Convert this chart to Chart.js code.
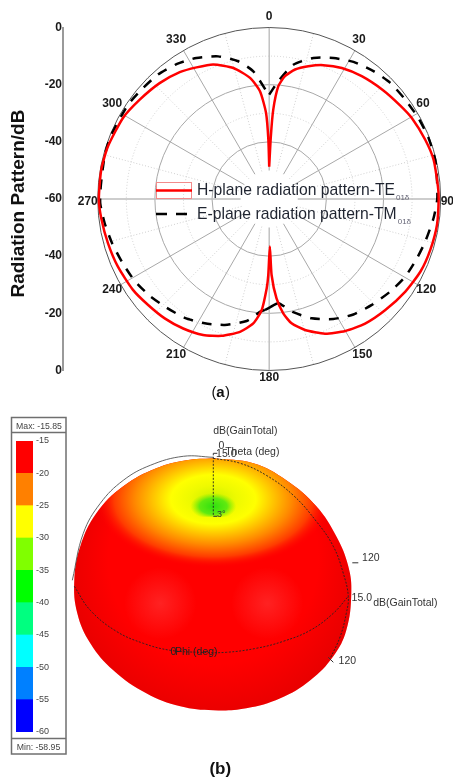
<!DOCTYPE html>
<html>
<head>
<meta charset="utf-8">
<title>Radiation pattern</title>
<script src="https://cdn.jsdelivr.net/npm/chart.js@4/dist/chart.umd.min.js"></script>
<style>
  html, body { margin: 0; padding: 0; background: #fff; overflow: hidden; }
  canvas { position: absolute; display: block; }
  #polar { left: 0; top: 0; }
  #scale { left: 0; top: 400px; z-index: 2; }
  #sphere { left: 70px; top: 400px; }
</style>
</head>
<body>
<canvas id="polar" width="453" height="400"></canvas>
<canvas id="scale" width="70" height="381"></canvas>
<canvas id="sphere" width="383" height="381"></canvas>
<script>
// (a) measured patterns, angle in degrees and level in dB
const hAngles = [0, 1.5, 2.6, 4.6, 7.3, 11.3, 16.4, 22, 29, 37, 46.3, 54.4, 60.5, 69.2, 76.6, 85.8, 90, 98.7, 107.5, 115.6, 124.2, 133.7, 142.4, 150, 157.5, 164.7, 169.8, 173, 175.8, 178.2, 179.2, 180.7, 181.6, 183.9, 187.3, 192.4, 199.2, 205.9, 213.6, 221.2, 228.8, 236.3, 246, 254.7, 263.5, 270, 279.8, 288, 299, 307.5, 316.6, 324.8, 331.1, 337.4, 344.7, 351, 355.1, 357.9, 359.2, 360];
const hLevels = [-48.7, -38.1, -28.7, -20.5, -16.7, -13.8, -11.6, -9.5, -7.6, -6.2, -4.9, -3.7, -2.6, -1.6, -0.85, -0.8, -0.7, -0.6, -0.9, -1.3, -2.4, -3.8, -5, -6.7, -9, -12.5, -15.8, -19.7, -25.1, -33.4, -43.4, -33.4, -28.8, -21, -16.1, -12.4, -9.3, -7.1, -5.6, -4.5, -3.7, -2.7, -2, -1.5, -0.85, -0.4, -0.35, -0.65, -1.5, -2.9, -4.2, -5.7, -7.4, -9, -12.5, -17.1, -22.2, -29.9, -39.3, -48.7];
const eAngles = [0, 4.4, 10.2, 17.4, 24.5, 31.6, 39.2, 46.2, 53.9, 61.6, 69, 76.7, 83.5, 90, 96.6, 105.2, 111.8, 119.7, 127.4, 135.9, 143.9, 151.9, 160.4, 168, 175, 179.6, 182.2, 184.7, 190.5, 199.4, 207.4, 215.4, 223.4, 231, 238.7, 246.6, 254.3, 261.7, 268.6, 274.7, 284.5, 291.4, 303.7, 310.5, 318.2, 325.7, 332.7, 340.3, 347.3, 352.9, 358.6, 360];
const eLevels = [-23.5, -18.7, -12.3, -8.3, -5.8, -3.7, -2.3, -1.3, -1.05, -0.6, -0.3, -0.3, -0.9, -1.2, -2.1, -3.4, -4.3, -5.2, -6.7, -8.4, -10, -12.4, -15.7, -19.5, -23.4, -22.1, -21.2, -20.4, -16.6, -13.3, -11, -9, -7.7, -6.2, -4.9, -4, -2.9, -1.8, -0.85, -0.9, -0.5, -0.3, -0.6, -1.15, -1.6, -2.8, -4.45, -7, -10.6, -15, -22.3, -23.5];
const angleTicks = [0, 30, 60, 90, 120, 150, 180, 210, 240, 270, 300, 330];
const solidRings = [-20, -40];
const dottedRings = [-10, -30];

// (b) colour scale
const gainEdges = [-60, -55, -50, -45, -40, -35, -30, -25, -20, -15];
const gainColors = ["#0000ff", "#0080ff", "#00ffff", "#00ff80", "#00ff00", "#80ff00", "#ffff00", "#ff8000", "#ff0000"];

// (b) traces of the 3D plot
const bodyX = [0, 40, 73, 103, 123, 135, 138, 133, 120, 97, 67, 33, 0, -33, -67, -100, -123, -136, -139, -133, -117, -90, -57, -27, 0];
const bodyY = [126, 121, 104, 78, 48, 18, -9, -46, -72, -96, -114, -124, -126, -122, -109, -86, -59, -29, 4, 38, 71, 98, 116, 124, 126];
const arcX = [-141, -130, -113, -90, -63, -30, 0];
const arcY = [4, 51, 81, 104, 119, 128, 127];
const thetaX = [0, 27, 53, 80, 103, 120, 130, 135, 133, 127, 117];
const thetaY = [126, 121, 109, 89, 63, 38, 11, -12, -29, -52, -74];
const phiX = [-139, -123, -97, -70, -43, -13, 13, 43, 70, 97, 120, 135];
const phiY = [-2, -26, -47, -59, -66, -68, -68, -64, -57, -46, -29, -12];

const FONT = '"Liberation Sans", Arial, sans-serif';
const toXY = (a, db) => ({
  x: (db + 60) * Math.sin(a * Math.PI / 180),
  y: (db + 60) * Math.cos(a * Math.PI / 180),
});
const zip = (xs, ys) => xs.map((x, i) => ({ x: x, y: ys[i] }));

function label(ctx, text, x, y, font, color, align) {
  ctx.font = font;
  ctx.fillStyle = color;
  ctx.textAlign = align || "center";
  ctx.textBaseline = "middle";
  ctx.fillText(text, x, y);
}

const polarGrid = {
  id: "polarGrid",
  beforeDatasetsDraw(chart) {
    const { ctx, scales: { x, y } } = chart;
    const cx = x.getPixelForValue(0), cy = y.getPixelForValue(0);
    const unit = cx - x.getPixelForValue(-1);
    ctx.save();
    ctx.lineWidth = 1;
    dottedRings.forEach((db) => {
      ctx.strokeStyle = "#cfcfcf";
      ctx.setLineDash([1, 2]);
      ctx.beginPath();
      ctx.arc(cx, cy, (db + 60) * unit, 0, Math.PI * 2);
      ctx.stroke();
    });
    for (let a = 15; a < 360; a += 30) {
      const s = Math.sin(a * Math.PI / 180), c = Math.cos(a * Math.PI / 180);
      ctx.beginPath();
      ctx.moveTo(cx + s * 10 * unit, cy - c * 10 * unit);
      ctx.lineTo(cx + s * 60 * unit, cy - c * 60 * unit);
      ctx.stroke();
    }
    ctx.setLineDash([]);
    ctx.strokeStyle = "#a8a8a8";
    solidRings.forEach((db) => {
      ctx.beginPath();
      ctx.arc(cx, cy, (db + 60) * unit, 0, Math.PI * 2);
      ctx.stroke();
    });
    angleTicks.forEach((a) => {
      const s = Math.sin(a * Math.PI / 180), c = Math.cos(a * Math.PI / 180);
      ctx.lineWidth = a % 90 === 0 ? 1.4 : 1;
      ctx.strokeStyle = a % 90 === 0 ? "#bdbdbd" : "#a8a8a8";
      ctx.beginPath();
      ctx.moveTo(cx + s * 10 * unit, cy - c * 10 * unit);
      ctx.lineTo(cx + s * 60 * unit, cy - c * 60 * unit);
      ctx.stroke();
    });
    ctx.lineWidth = 1;
    ctx.strokeStyle = "#555";
    ctx.beginPath();
    ctx.arc(cx, cy, 60 * unit, 0, Math.PI * 2);
    ctx.stroke();
    // angle labels hang off the rim, left or right aligned by side
    const R = 60 * unit;
    angleTicks.forEach((a) => {
      const s = Math.sin(a * Math.PI / 180), c = Math.cos(a * Math.PI / 180);
      const side = Math.abs(s) < 0.01 ? 0 : Math.sign(s);
      const ax = cx + R * s - side * 3 * Math.abs(c);
      const ay = c > 0.01 ? cy - R * c - (8 + 3 * c) : cy - R * c + (3 - 4.5 * c);
      const align = side === 0 ? "center" : side > 0 ? "left" : "right";
      label(ctx, String(a), ax, ay, "bold 12px " + FONT, "#1a1a1a", align);
    });
    ctx.restore();
  },
  afterDraw(chart) {
    const { ctx } = chart;
    ctx.save();
    // axis name
    ctx.translate(18.5, 203.5);
    ctx.rotate(-Math.PI / 2);
    label(ctx, "Radiation Pattern/dB", 0, 0, "bold 19px " + FONT, "#111");
    ctx.restore();
    ctx.save();
    // legend
    ctx.strokeStyle = "#f28b8b";
    ctx.lineWidth = 1;
    ctx.strokeRect(156.5, 182.5, 35, 16);
    ctx.strokeStyle = "#ff0000";
    ctx.lineWidth = 2.5;
    ctx.beginPath();
    ctx.moveTo(156, 190.5);
    ctx.lineTo(192, 190.5);
    ctx.stroke();
    ctx.strokeStyle = "#000";
    ctx.setLineDash([11, 9]);
    ctx.beginPath();
    ctx.moveTo(156, 214);
    ctx.lineTo(188, 214);
    ctx.stroke();
    ctx.setLineDash([]);
    const f = "15.7px " + FONT;
    label(ctx, "H-plane radiation pattern-TE", 197, 190.5, f, "#1f2430", "left");
    label(ctx, "01δ", ctx.measureText("H-plane radiation pattern-TE").width + 198, 197.5, "8px " + FONT, "#667", "left");
    ctx.font = f;
    const eWidth = ctx.measureText("E-plane radiation pattern-TM").width;
    label(ctx, "E-plane radiation pattern-TM", 197, 214.5, f, "#1f2430", "left");
    label(ctx, "01δ", eWidth + 198, 221.5, "8px " + FONT, "#667", "left");
    // captions of the two panels
    label(ctx, "(", 214, 393, "15px " + FONT, "#111");
    label(ctx, "a", 220.5, 393, "bold 15px " + FONT, "#111");
    label(ctx, ")", 227.5, 393, "15px " + FONT, "#111");
    ctx.restore();
  },
};

new Chart(document.getElementById("polar"), {
  type: "scatter",
  data: {
    datasets: [
      {
        label: "H-plane radiation pattern-TE01δ",
        data: hAngles.map((a, i) => toXY(a, hLevels[i])),
        showLine: true,
        borderColor: "#ff0000",
        borderWidth: 2.5,
        tension: 0.2,
        pointRadius: 0,
      },
      {
        label: "E-plane radiation pattern-TM01δ",
        data: eAngles.map((a, i) => toXY(a, eLevels[i])),
        showLine: true,
        borderColor: "#000000",
        borderWidth: 2.5,
        borderDash: [10, 9],
        tension: 0.2,
        pointRadius: 0,
        segment: {
          // the short stretch under the lower null is drawn solid
          borderDash: (c) => (eAngles[c.p0DataIndex] >= 175 && eAngles[c.p0DataIndex] < 182.2 ? [] : undefined),
        },
      },
    ],
  },
  options: {
    responsive: false,
    animation: false,
    devicePixelRatio: 1,
    layout: { padding: { top: 27.5, bottom: 29.5, left: 0, right: 0 } },
    plugins: { legend: { display: false }, tooltip: { enabled: false } },
    scales: {
      x: { type: "linear", display: false, min: -72.15, max: 64.31 },
      y: {
        type: "linear",
        min: -60,
        max: 60,
        afterFit: (s) => { s.width = 63; },
        grid: { display: false, drawTicks: false },
        border: { display: true, color: "#9a9a9a", width: 2 },
        ticks: {
          stepSize: 20,
          padding: 1,
          color: "#1a1a1a",
          font: { family: FONT, size: 12, weight: "bold" },
          callback: (v) => Math.abs(v) - 60,
        },
      },
    },
  },
  plugins: [polarGrid],
});

const scaleFrame = {
  id: "scaleFrame",
  afterDraw(chart) {
    const { ctx } = chart;
    ctx.save();
    ctx.strokeStyle = "#6f6f6f";
    ctx.lineWidth = 1.5;
    ctx.strokeRect(11.5, 17.5, 54.5, 336.5);
    ctx.beginPath();
    ctx.moveTo(11.5, 32.5);
    ctx.lineTo(66, 32.5);
    ctx.moveTo(11.5, 338.5);
    ctx.lineTo(66, 338.5);
    ctx.stroke();
    label(ctx, "Max: -15.85", 39, 27, "8.7px " + FONT, "#444");
    label(ctx, "Min: -58.95", 38.5, 347.5, "8.7px " + FONT, "#444");
    ctx.restore();
  },
};

new Chart(document.getElementById("scale"), {
  type: "bar",
  data: {
    labels: ["gain"],
    datasets: gainColors.map((col, i) => ({
      label: String(gainEdges[i]),
      data: [[gainEdges[i], gainEdges[i + 1]]],
      backgroundColor: col,
      borderWidth: 0,
      grouped: false,
      barPercentage: 1,
      categoryPercentage: 1,
    })),
  },
  options: {
    responsive: false,
    animation: false,
    devicePixelRatio: 1,
    layout: { padding: { top: 41, bottom: 49, left: 16, right: 0 } },
    plugins: { legend: { display: false }, tooltip: { enabled: false } },
    scales: {
      x: { display: false, grid: { display: false } },
      y: {
        type: "linear",
        position: "right",
        min: -60,
        max: -15,
        afterFit: (s) => { s.width = 37; },
        grid: { display: false, drawTicks: false },
        border: { display: false },
        ticks: {
          stepSize: 5,
          padding: 3,
          autoSkip: false,
          color: "#444",
          font: { family: FONT, size: 9 },
        },
      },
    },
  },
  plugins: [scaleFrame],
});

// shading on the body, clipped to the traced outline
const bodyShade = {
  id: "bodyShade",
  afterDatasetDraw(chart, args) {
    if (args.index !== chart.data.datasets.length - 1) return;
    const { ctx, scales: { x, y } } = chart;
    const px = (v) => x.getPixelForValue(v);
    const py = (v) => y.getPixelForValue(v);
    ctx.save();
    ctx.beginPath();
    args.meta.dataset.path(ctx);
    ctx.clip();

    let g = ctx.createRadialGradient(px(0), py(25), 105, px(0), py(10), 150);
    g.addColorStop(0, "rgba(170,0,0,0)");
    g.addColorStop(1, "rgba(170,0,0,0.3)");
    ctx.fillStyle = g;
    ctx.fillRect(0, 0, chart.width, chart.height);

    [-53, 54].forEach((dx) => {
      const h = ctx.createRadialGradient(px(dx), py(-19), 0, px(dx), py(-19), 36);
      h.addColorStop(0, "rgba(255,75,75,0.45)");
      h.addColorStop(1, "rgba(255,75,75,0)");
      ctx.fillStyle = h;
      ctx.fillRect(0, 0, chart.width, chart.height);
    });

    ctx.save();
    ctx.translate(px(0), py(85));
    ctx.scale(1, 0.58);
    g = ctx.createRadialGradient(0, 0, 0, 0, 0, 118);
    g.addColorStop(0, "#c8f000");
    g.addColorStop(0.2, "#eefa00");
    g.addColorStop(0.36, "#ffff00");
    g.addColorStop(0.5, "#ffc800");
    g.addColorStop(0.66, "#ff8a00");
    g.addColorStop(0.84, "#ff3c00");
    g.addColorStop(1, "rgba(255,0,0,0)");
    ctx.fillStyle = g;
    ctx.fillRect(-170, -170, 340, 340);
    ctx.restore();

    ctx.beginPath();
    ctx.rect(0, 0, chart.width, py(68) + 0.5);
    ctx.clip();
    ctx.save();
    ctx.translate(px(0), py(78));
    ctx.scale(1, 0.58);
    g = ctx.createRadialGradient(0, 0, 0, 0, 0, 23);
    g.addColorStop(0, "#30e010");
    g.addColorStop(0.6, "#60ea10");
    g.addColorStop(1, "rgba(140,240,0,0)");
    ctx.fillStyle = g;
    ctx.fillRect(-30, -30, 60, 60);
    ctx.restore();
    ctx.restore();
  },
  afterDraw(chart) {
    const { ctx, scales: { x, y } } = chart;
    const px = (v) => x.getPixelForValue(v);
    const py = (v) => y.getPixelForValue(v);
    const f = "10.5px " + FONT;
    ctx.save();
    ctx.strokeStyle = "#333";
    ctx.lineWidth = 1;
    ctx.beginPath();
    ctx.moveTo(px(0), py(131));
    ctx.lineTo(px(4), py(131));
    ctx.moveTo(px(0), py(68));
    ctx.lineTo(px(4), py(68));
    ctx.moveTo(px(139), py(21.5));
    ctx.lineTo(px(145), py(21.5));
    ctx.moveTo(px(115), py(-73));
    ctx.lineTo(px(120), py(-78));
    ctx.stroke();
    label(ctx, "dB(GainTotal)", px(32), py(153), f, "#333");
    label(ctx, "0", px(8), py(138), f, "#333");
    label(ctx, "15.0", px(13), py(130), f, "#333");
    label(ctx, "Theta (deg)", px(39), py(132), f, "#333");
    label(ctx, "3°", px(8), py(70), "9px " + FONT, "#333");
    label(ctx, "120", px(157.5), py(26), f, "#333");
    label(ctx, "15.0", px(148.5), py(-13.5), f, "#333");
    label(ctx, "dB(GainTotal)", px(192), py(-19), f, "#333");
    label(ctx, "120", px(134), py(-77), f, "#333");
    label(ctx, "0", px(-40), py(-67.5), f, "#222");
    label(ctx, "Phi (deg)", px(-17), py(-67.5), f, "#222");
    ctx.restore();
    // caption
    label(ctx, "(b)", px(7), py(-185), "bold 17px " + FONT, "#111");
  },
};

const traceLine = { showLine: true, pointRadius: 0, borderColor: "#222", borderWidth: 0.9, borderDash: [2, 1.5], tension: 0.4, order: 1 };

new Chart(document.getElementById("sphere"), {
  type: "scatter",
  data: {
    datasets: [
      { ...traceLine, label: "Theta", data: zip(thetaX, thetaY) },
      { ...traceLine, label: "Phi", data: zip(phiX, phiY) },
      { ...traceLine, label: "Axis", data: zip([0, 0], [131, 68]), tension: 0 },
      { ...traceLine, label: "Arc", data: zip(arcX, arcY), borderColor: "#555", borderDash: [] },
      {
        label: "dB(GainTotal)",
        data: zip(bodyX, bodyY),
        showLine: true,
        pointRadius: 0,
        borderWidth: 0,
        borderColor: "#ff0000",
        backgroundColor: "#ff0000",
        fill: "shape",
        tension: 0.4,
        order: 2,
      },
    ],
  },
  options: {
    responsive: false,
    animation: false,
    devicePixelRatio: 1,
    layout: { padding: 0 },
    plugins: { legend: { display: false }, tooltip: { enabled: false } },
    scales: {
      x: { type: "linear", display: false, min: -143.3, max: 239.7 },
      y: { type: "linear", display: false, min: -196.7, max: 184.3 },
    },
  },
  plugins: [bodyShade],
});
</script>
</body>
</html>
